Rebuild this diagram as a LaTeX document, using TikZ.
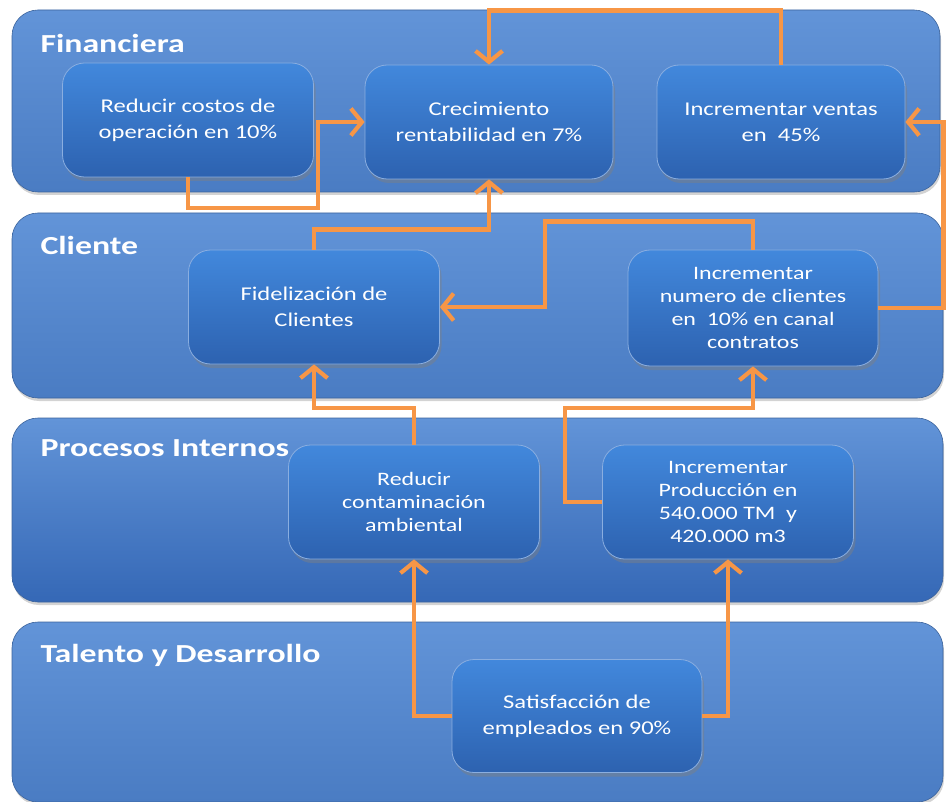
\documentclass[tikz,border=0pt]{standalone}
\usepackage{fontspec}
\setmainfont{Carlito}
\newfontfamily\objfont[FakeStretch=1.26]{Carlito}
\newfontfamily\ttlfont[FakeStretch=1.3]{Carlito}
\usetikzlibrary{arrows.meta, shadows}
\definecolor{bandtop}{HTML}{6294D8}
\definecolor{bandbot}{HTML}{4A7CC3}
\definecolor{procbot}{HTML}{3568B6}
\definecolor{objtop}{HTML}{4288DC}
\definecolor{objbot}{HTML}{2D62B0}
\definecolor{objedge}{HTML}{8AAEE0}
\definecolor{lnkorange}{HTML}{F79646}

\begin{document}
\begin{tikzpicture}[x=1pt, y=-1pt,
    band/.style={rounded corners=26pt, top color=bandtop, bottom color=bandbot, draw=bandbot!80!black, line width=0.6pt, inner sep=0pt, drop shadow={shadow xshift=1pt, shadow yshift=-3pt, opacity=0.35}},
    obj/.style={rounded corners=22pt, top color=objtop, bottom color=objbot, draw=objedge, line width=0.8pt, inner sep=0pt, minimum width=251pt, minimum height=114pt, text=white, align=center, font=\objfont\fontsize{19.5}{26}\selectfont, drop shadow={shadow xshift=2pt, shadow yshift=-4pt, opacity=0.45}},
    tight/.style={font=\objfont\fontsize{19}{23}\selectfont},
    ttl/.style={anchor=west, text=white, font=\ttlfont\bfseries\fontsize{26}{30}\selectfont},
    lnk/.style={line width=4.2pt, draw=lnkorange, -{Straight Barb[length=11pt, width=27pt]}}]
  \useasboundingbox (0,0) rectangle (947,802);
  % perspective bands
  \node[band, minimum width=928pt, minimum height=182pt] (fin) at (476,101) {};
  \node[band, minimum width=931pt, minimum height=185pt] (cli) at (477.5,305.5) {};
  \node[band, bottom color=procbot, minimum width=931pt, minimum height=184pt] (pro) at (477.5,510) {};
  \node[band, minimum width=931pt, minimum height=180pt] (tal) at (477.5,712) {};
  \node[ttl] (tfin) at (37,43) {Financiera};
  \node[ttl] (tcli) at (37,245) {Cliente};
  \node[ttl] (tpro) at (37,448) {Procesos Internos};
  \node[ttl] (ttal) at (37,655) {Talento y Desarrollo};
  % objectives
  \node[obj] (costos) at (188,120) {Reducir costos de\\operación en 10\%};
  \node[obj, minimum width=248pt] (renta) at (489,122) {Crecimiento\\rentabilidad en 7\%};
  \node[obj, minimum width=248pt] (ventas) at (781,122) {Incrementar ventas\\en~~45\%};
  \node[obj] (fidel) at (314,307) {Fidelización de\\Clientes};
  \node[obj, tight, minimum width=250pt, minimum height=116pt] (numcli) at (753,308) {Incrementar\\numero de clientes\\en~~10\% en canal\\contratos};
  \node[obj, tight] (contam) at (414,502) {Reducir\\contaminación\\ambiental};
  \node[obj, tight] (prod) at (728,502) {Incrementar\\Producción en\\540.000 TM~~y\\420.000 m3};
  \node[obj, minimum width=250pt, minimum height=113pt] (satis) at (577,716) {Satisfacción de\\empleados en 90\%};
  % links
  \draw[lnk] (ventas.north) -- ++(0,-54) -| (renta.north);
  \draw[lnk] (costos.south) -- ++(0,31) -- ++(130,0) |- (renta.west);
  \draw[lnk] (fidel.north) -- ++(0,-20) -| (renta.south);
  \draw[lnk] (numcli.north) -- ++(0,-28) -- ++(-208,0) |- (fidel.east);
  \draw[lnk] (numcli.east) -- ++(65,0) |- (ventas.east);
  \draw[lnk] (contam.north) -- ++(0,-37) -| (fidel.south);
  \draw[lnk] (prod.west) -- ++(-37,0) -- ++(0,-94) -| (numcli.south);
  \draw[lnk] (satis.west) -| (contam.south);
  \draw[lnk] (satis.east) -| (prod.south);
\end{tikzpicture}
\end{document}
